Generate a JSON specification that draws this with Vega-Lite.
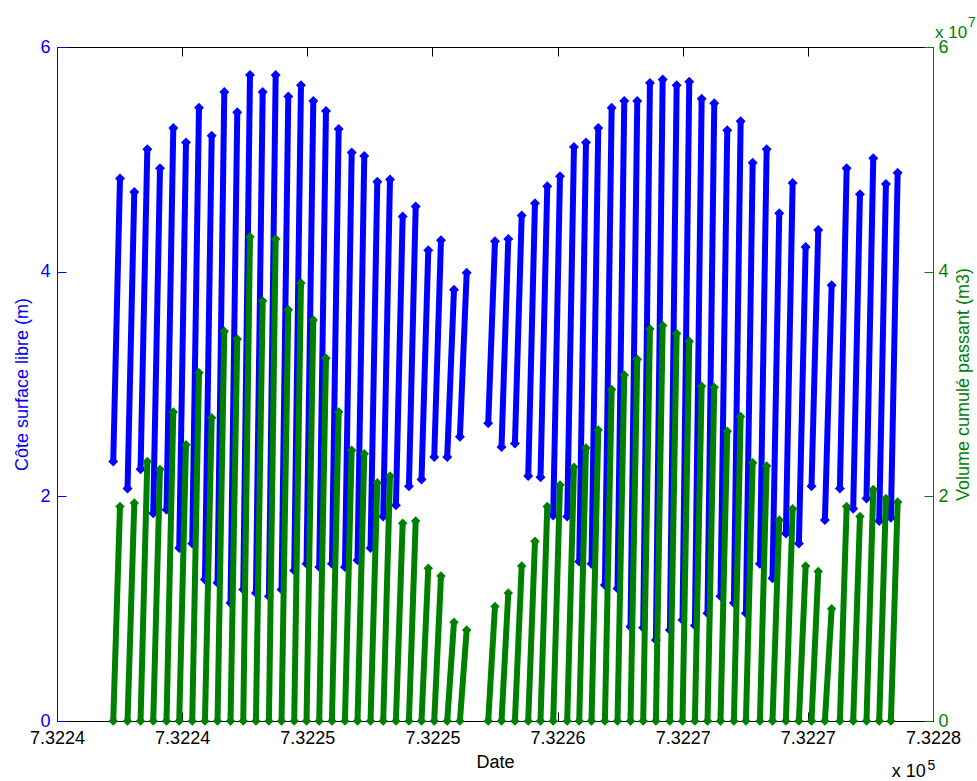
{
"$schema": "https://vega.github.io/schema/vega-lite/v6.json",
"width": 876, "height": 674,
"autosize": {"type": "none"},
"padding": {"left": 57, "top": 47, "right": 44, "bottom": 60},
"background": "white",
"config": {
  "view": {"stroke": "#000000", "strokeWidth": 1},
  "font": "Liberation Sans",
  "axis": {"grid": false, "labelFont": "Liberation Sans", "titleFont": "Liberation Sans", "labelFontSize": 18, "titleFontSize": 18, "titleFontWeight": "normal", "tickSize": -9, "tickWidth": 1, "domainWidth": 1, "labelFlush": false, "labelOverlap": false, "labelBound": false}
},
"datasets": {
  "blue": [
    {"cycle":1,"date":732242.247,"level":2.31},{"cycle":1,"date":732242.517,"level":4.83},
    {"cycle":2,"date":732242.818,"level":2.07},{"cycle":2,"date":732243.088,"level":4.71},
    {"cycle":3,"date":732243.338,"level":2.24},{"cycle":3,"date":732243.608,"level":5.09},
    {"cycle":4,"date":732243.845,"level":1.85},{"cycle":4,"date":732244.115,"level":4.92},
    {"cycle":5,"date":732244.376,"level":1.88},{"cycle":5,"date":732244.646,"level":5.28},
    {"cycle":6,"date":732244.884,"level":1.54},{"cycle":6,"date":732245.154,"level":5.15},
    {"cycle":7,"date":732245.403,"level":1.58},{"cycle":7,"date":732245.673,"level":5.46},
    {"cycle":8,"date":732245.911,"level":1.26},{"cycle":8,"date":732246.181,"level":5.21},
    {"cycle":9,"date":732246.414,"level":1.23},{"cycle":9,"date":732246.684,"level":5.60},
    {"cycle":10,"date":732246.933,"level":1.05},{"cycle":10,"date":732247.203,"level":5.42},
    {"cycle":11,"date":732247.441,"level":1.17},{"cycle":11,"date":732247.711,"level":5.75},
    {"cycle":12,"date":732247.948,"level":1.14},{"cycle":12,"date":732248.218,"level":5.60},
    {"cycle":13,"date":732248.467,"level":1.11},{"cycle":13,"date":732248.737,"level":5.75},
    {"cycle":14,"date":732248.971,"level":1.17},{"cycle":14,"date":732249.241,"level":5.56},
    {"cycle":15,"date":732249.478,"level":1.34},{"cycle":15,"date":732249.748,"level":5.66},
    {"cycle":16,"date":732249.970,"level":1.40},{"cycle":16,"date":732250.240,"level":5.52},
    {"cycle":17,"date":732250.477,"level":1.37},{"cycle":17,"date":732250.747,"level":5.43},
    {"cycle":18,"date":732250.984,"level":1.40},{"cycle":18,"date":732251.254,"level":5.27},
    {"cycle":19,"date":732251.504,"level":1.37},{"cycle":19,"date":732251.774,"level":5.06},
    {"cycle":20,"date":732252.007,"level":1.43},{"cycle":20,"date":732252.277,"level":5.03},
    {"cycle":21,"date":732252.527,"level":1.54},{"cycle":21,"date":732252.797,"level":4.80},
    {"cycle":22,"date":732253.034,"level":1.82},{"cycle":22,"date":732253.304,"level":4.82},
    {"cycle":23,"date":732253.541,"level":1.92},{"cycle":23,"date":732253.811,"level":4.49},
    {"cycle":24,"date":732254.061,"level":2.09},{"cycle":24,"date":732254.331,"level":4.58},
    {"cycle":25,"date":732254.564,"level":2.15},{"cycle":25,"date":732254.834,"level":4.19},
    {"cycle":26,"date":732255.072,"level":2.35},{"cycle":26,"date":732255.342,"level":4.28},
    {"cycle":27,"date":732255.591,"level":2.35},{"cycle":27,"date":732255.861,"level":3.84},
    {"cycle":28,"date":732256.098,"level":2.53},{"cycle":28,"date":732256.368,"level":3.99},
    {"cycle":29,"date":732257.229,"level":2.65},{"cycle":29,"date":732257.499,"level":4.27},
    {"cycle":30,"date":732257.761,"level":2.44},{"cycle":30,"date":732258.031,"level":4.29},
    {"cycle":31,"date":732258.296,"level":2.47},{"cycle":31,"date":732258.566,"level":4.50},
    {"cycle":32,"date":732258.827,"level":2.18},{"cycle":32,"date":732259.097,"level":4.61},
    {"cycle":33,"date":732259.318,"level":2.17},{"cycle":33,"date":732259.588,"level":4.76},
    {"cycle":34,"date":732259.826,"level":1.83},{"cycle":34,"date":732260.096,"level":4.85},
    {"cycle":35,"date":732260.385,"level":1.82},{"cycle":35,"date":732260.655,"level":5.11},
    {"cycle":36,"date":732260.865,"level":1.42},{"cycle":36,"date":732261.135,"level":5.15},
    {"cycle":37,"date":732261.356,"level":1.40},{"cycle":37,"date":732261.626,"level":5.28},
    {"cycle":38,"date":732261.891,"level":1.21},{"cycle":38,"date":732262.161,"level":5.46},
    {"cycle":39,"date":732262.395,"level":1.18},{"cycle":39,"date":732262.665,"level":5.52},
    {"cycle":40,"date":732262.914,"level":0.84},{"cycle":40,"date":732263.184,"level":5.52},
    {"cycle":41,"date":732263.421,"level":0.83},{"cycle":41,"date":732263.691,"level":5.68},
    {"cycle":42,"date":732263.929,"level":0.72},{"cycle":42,"date":732264.199,"level":5.71},
    {"cycle":43,"date":732264.488,"level":0.81},{"cycle":43,"date":732264.758,"level":5.66},
    {"cycle":44,"date":732264.992,"level":0.90},{"cycle":44,"date":732265.262,"level":5.69},
    {"cycle":45,"date":732265.487,"level":0.85},{"cycle":45,"date":732265.757,"level":5.54},
    {"cycle":46,"date":732265.991,"level":0.96},{"cycle":46,"date":732266.261,"level":5.50},
    {"cycle":47,"date":732266.510,"level":1.11},{"cycle":47,"date":732266.780,"level":5.26},
    {"cycle":48,"date":732267.045,"level":1.05},{"cycle":48,"date":732267.315,"level":5.34},
    {"cycle":49,"date":732267.525,"level":0.96},{"cycle":49,"date":732267.795,"level":4.97},
    {"cycle":50,"date":732268.084,"level":1.40},{"cycle":50,"date":732268.354,"level":5.09},
    {"cycle":51,"date":732268.587,"level":1.27},{"cycle":51,"date":732268.857,"level":4.52},
    {"cycle":52,"date":732269.122,"level":1.67},{"cycle":52,"date":732269.392,"level":4.79},
    {"cycle":53,"date":732269.642,"level":1.58},{"cycle":53,"date":732269.912,"level":4.22},
    {"cycle":54,"date":732270.146,"level":2.09},{"cycle":54,"date":732270.416,"level":4.37},
    {"cycle":55,"date":732270.681,"level":1.79},{"cycle":55,"date":732270.951,"level":3.88},
    {"cycle":56,"date":732271.280,"level":2.07},{"cycle":56,"date":732271.550,"level":4.92},
    {"cycle":57,"date":732271.812,"level":1.89},{"cycle":57,"date":732272.082,"level":4.69},
    {"cycle":58,"date":732272.343,"level":1.98},{"cycle":58,"date":732272.613,"level":5.01},
    {"cycle":59,"date":732272.850,"level":1.78},{"cycle":59,"date":732273.120,"level":4.78},
    {"cycle":60,"date":732273.318,"level":1.81},{"cycle":60,"date":732273.588,"level":4.88}
  ],
  "green": [
    {"cycle":1,"date":732242.247,"volume":0},{"cycle":1,"date":732242.517,"volume":19100000},
    {"cycle":2,"date":732242.818,"volume":0},{"cycle":2,"date":732243.088,"volume":19400000},
    {"cycle":3,"date":732243.338,"volume":0},{"cycle":3,"date":732243.608,"volume":23100000},
    {"cycle":4,"date":732243.845,"volume":0},{"cycle":4,"date":732244.115,"volume":22400000},
    {"cycle":5,"date":732244.376,"volume":0},{"cycle":5,"date":732244.646,"volume":27500000},
    {"cycle":6,"date":732244.884,"volume":0},{"cycle":6,"date":732245.154,"volume":24600000},
    {"cycle":7,"date":732245.403,"volume":0},{"cycle":7,"date":732245.673,"volume":31000000},
    {"cycle":8,"date":732245.911,"volume":0},{"cycle":8,"date":732246.181,"volume":27000000},
    {"cycle":9,"date":732246.414,"volume":0},{"cycle":9,"date":732246.684,"volume":34700000},
    {"cycle":10,"date":732246.933,"volume":0},{"cycle":10,"date":732247.203,"volume":34000000},
    {"cycle":11,"date":732247.441,"volume":0},{"cycle":11,"date":732247.711,"volume":43100000},
    {"cycle":12,"date":732247.948,"volume":0},{"cycle":12,"date":732248.218,"volume":37400000},
    {"cycle":13,"date":732248.467,"volume":0},{"cycle":13,"date":732248.737,"volume":42900000},
    {"cycle":14,"date":732248.971,"volume":0},{"cycle":14,"date":732249.241,"volume":36600000},
    {"cycle":15,"date":732249.478,"volume":0},{"cycle":15,"date":732249.748,"volume":39000000},
    {"cycle":16,"date":732249.970,"volume":0},{"cycle":16,"date":732250.240,"volume":35700000},
    {"cycle":17,"date":732250.477,"volume":0},{"cycle":17,"date":732250.747,"volume":32300000},
    {"cycle":18,"date":732250.984,"volume":0},{"cycle":18,"date":732251.254,"volume":27500000},
    {"cycle":19,"date":732251.504,"volume":0},{"cycle":19,"date":732251.774,"volume":24100000},
    {"cycle":20,"date":732252.007,"volume":0},{"cycle":20,"date":732252.277,"volume":23800000},
    {"cycle":21,"date":732252.527,"volume":0},{"cycle":21,"date":732252.797,"volume":21200000},
    {"cycle":22,"date":732253.034,"volume":0},{"cycle":22,"date":732253.304,"volume":21800000},
    {"cycle":23,"date":732253.541,"volume":0},{"cycle":23,"date":732253.811,"volume":17600000},
    {"cycle":24,"date":732254.061,"volume":0},{"cycle":24,"date":732254.331,"volume":17800000},
    {"cycle":25,"date":732254.564,"volume":0},{"cycle":25,"date":732254.834,"volume":13600000},
    {"cycle":26,"date":732255.072,"volume":0},{"cycle":26,"date":732255.342,"volume":12900000},
    {"cycle":27,"date":732255.591,"volume":0},{"cycle":27,"date":732255.861,"volume":8800000},
    {"cycle":28,"date":732256.098,"volume":0},{"cycle":28,"date":732256.368,"volume":8100000},
    {"cycle":29,"date":732257.229,"volume":0},{"cycle":29,"date":732257.499,"volume":10200000},
    {"cycle":30,"date":732257.761,"volume":0},{"cycle":30,"date":732258.031,"volume":11400000},
    {"cycle":31,"date":732258.296,"volume":0},{"cycle":31,"date":732258.566,"volume":13800000},
    {"cycle":32,"date":732258.827,"volume":0},{"cycle":32,"date":732259.097,"volume":16000000},
    {"cycle":33,"date":732259.318,"volume":0},{"cycle":33,"date":732259.588,"volume":19100000},
    {"cycle":34,"date":732259.826,"volume":0},{"cycle":34,"date":732260.096,"volume":21000000},
    {"cycle":35,"date":732260.385,"volume":0},{"cycle":35,"date":732260.655,"volume":22600000},
    {"cycle":36,"date":732260.865,"volume":0},{"cycle":36,"date":732261.135,"volume":24300000},
    {"cycle":37,"date":732261.356,"volume":0},{"cycle":37,"date":732261.626,"volume":25900000},
    {"cycle":38,"date":732261.891,"volume":0},{"cycle":38,"date":732262.161,"volume":29500000},
    {"cycle":39,"date":732262.395,"volume":0},{"cycle":39,"date":732262.665,"volume":30800000},
    {"cycle":40,"date":732262.914,"volume":0},{"cycle":40,"date":732263.184,"volume":32200000},
    {"cycle":41,"date":732263.421,"volume":0},{"cycle":41,"date":732263.691,"volume":34900000},
    {"cycle":42,"date":732263.929,"volume":0},{"cycle":42,"date":732264.199,"volume":35200000},
    {"cycle":43,"date":732264.488,"volume":0},{"cycle":43,"date":732264.758,"volume":34500000},
    {"cycle":44,"date":732264.992,"volume":0},{"cycle":44,"date":732265.262,"volume":33800000},
    {"cycle":45,"date":732265.487,"volume":0},{"cycle":45,"date":732265.757,"volume":29800000},
    {"cycle":46,"date":732265.991,"volume":0},{"cycle":46,"date":732266.261,"volume":29700000},
    {"cycle":47,"date":732266.510,"volume":0},{"cycle":47,"date":732266.780,"volume":25800000},
    {"cycle":48,"date":732267.045,"volume":0},{"cycle":48,"date":732267.315,"volume":27100000},
    {"cycle":49,"date":732267.525,"volume":0},{"cycle":49,"date":732267.795,"volume":23000000},
    {"cycle":50,"date":732268.084,"volume":0},{"cycle":50,"date":732268.354,"volume":22700000},
    {"cycle":51,"date":732268.587,"volume":0},{"cycle":51,"date":732268.857,"volume":17900000},
    {"cycle":52,"date":732269.122,"volume":0},{"cycle":52,"date":732269.392,"volume":18900000},
    {"cycle":53,"date":732269.642,"volume":0},{"cycle":53,"date":732269.912,"volume":13800000},
    {"cycle":54,"date":732270.146,"volume":0},{"cycle":54,"date":732270.416,"volume":13300000},
    {"cycle":55,"date":732270.681,"volume":0},{"cycle":55,"date":732270.951,"volume":10000000},
    {"cycle":56,"date":732271.280,"volume":0},{"cycle":56,"date":732271.550,"volume":19100000},
    {"cycle":57,"date":732271.812,"volume":0},{"cycle":57,"date":732272.082,"volume":18200000},
    {"cycle":58,"date":732272.343,"volume":0},{"cycle":58,"date":732272.613,"volume":20600000},
    {"cycle":59,"date":732272.850,"volume":0},{"cycle":59,"date":732273.120,"volume":19800000},
    {"cycle":60,"date":732273.318,"volume":0},{"cycle":60,"date":732273.588,"volume":19500000}
  ]
},
"layer": [
  {
    "layer": [
      {
        "data": {"name": "blue"},
        "mark": {"type": "line", "color": "#0000ff", "strokeWidth": 6, "point": {"filled": true, "shape": "diamond", "size": 100, "color": "#0000ff"}},
        "encoding": {
          "x": {"field": "date", "type": "quantitative", "scale": {"domain": [732240, 732275], "nice": false, "zero": false},
            "axis": {"orient": "bottom", "values": [732240, 732245, 732250, 732255, 732260, 732265, 732270, 732275],
              "labelExpr": "['7.3224','7.3224','7.3225','7.3225','7.3226','7.3227','7.3227','7.3228'][round((datum.value-732240)/5)]",
              "title": "Date", "domainColor": "#000000", "tickColor": "#000000", "labelColor": "#000000", "titleColor": "#000000", "labelPadding": 17, "titlePadding": 6}},
          "y": {"field": "level", "type": "quantitative", "scale": {"domain": [0, 6], "nice": false, "zero": false},
            "axis": {"orient": "left", "values": [0, 2, 4, 6], "format": "d", "title": "Côte surface libre (m)", "domainColor": "#0000ff", "tickColor": "#0000ff", "labelColor": "#0000ff", "titleColor": "#0000ff", "labelPadding": 16, "titlePadding": 8}},
          "detail": {"field": "cycle", "type": "nominal"}
        }
      },
      {
        "data": {"values": [{}]},
        "mark": {"type": "text", "align": "left", "baseline": "alphabetic", "fontSize": 18, "fontWeight": "normal", "color": "#000000", "font": "Liberation Sans"},
        "encoding": {"x": {"datum": 732273.35, "type": "quantitative"}, "y": {"datum": -0.5, "type": "quantitative"}, "text": {"value": "x 10"}}
      },
      {
        "data": {"values": [{}]},
        "mark": {"type": "text", "align": "left", "baseline": "alphabetic", "fontSize": 14, "fontWeight": "normal", "color": "#000000", "font": "Liberation Sans"},
        "encoding": {"x": {"datum": 732274.78, "type": "quantitative"}, "y": {"datum": -0.44, "type": "quantitative"}, "text": {"value": "5"}}
      }
    ]
  },
  {
    "layer": [
      {
        "data": {"name": "green"},
        "mark": {"type": "line", "color": "#008000", "strokeWidth": 6, "point": {"filled": true, "shape": "diamond", "size": 90, "color": "#008000"}},
        "encoding": {
          "x": {"field": "date", "type": "quantitative", "scale": {"domain": [732240, 732275], "nice": false, "zero": false},
            "axis": {"orient": "top", "values": [732240, 732245, 732250, 732255, 732260, 732265, 732270, 732275], "labels": false, "title": null, "domainColor": "#000000", "tickColor": "#000000"}},
          "y": {"field": "volume", "type": "quantitative", "scale": {"domain": [0, 60000000], "nice": false, "zero": false},
            "axis": {"orient": "right", "values": [0, 20000000, 40000000, 60000000], "labelExpr": "format(datum.value/10000000, 'd')", "title": "Volume cumulé passant (m3)", "titleAngle": 270, "titleBaseline": "top", "domainColor": "#008000", "tickColor": "#008000", "labelColor": "#008000", "titleColor": "#008000", "labelPadding": 14, "titlePadding": 6}},
          "detail": {"field": "cycle", "type": "nominal"}
        }
      },
      {
        "data": {"values": [{}]},
        "mark": {"type": "text", "align": "left", "baseline": "alphabetic", "fontSize": 17, "fontWeight": "normal", "color": "#008000", "font": "Liberation Sans"},
        "encoding": {"x": {"datum": 732275.08, "type": "quantitative"}, "y": {"datum": 60830000, "type": "quantitative"}, "text": {"value": "x 10"}}
      },
      {
        "data": {"values": [{}]},
        "mark": {"type": "text", "align": "left", "baseline": "alphabetic", "fontSize": 14, "fontWeight": "normal", "color": "#008000", "font": "Liberation Sans"},
        "encoding": {"x": {"datum": 732276.4, "type": "quantitative"}, "y": {"datum": 61810000, "type": "quantitative"}, "text": {"value": "7"}}
      }
    ]
  }
],
"resolve": {"scale": {"y": "independent"}, "axis": {"x": "independent"}}
}
